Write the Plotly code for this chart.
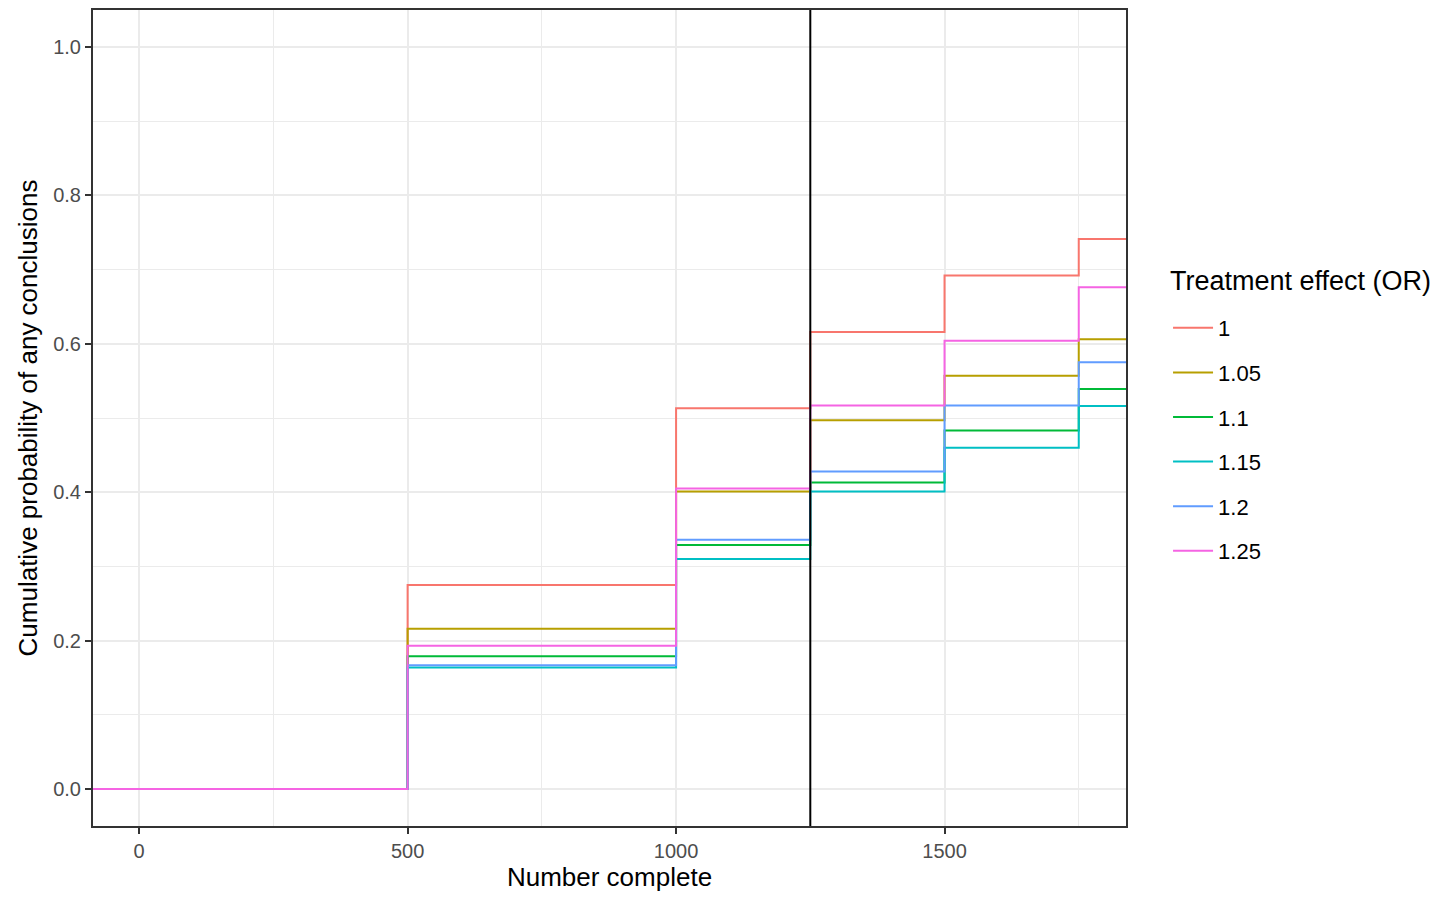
import plotly.graph_objects as go

# Interim analysis looks (number complete); ends extended so the steps span the panel
looks = [-250, 500, 1000, 1250, 1500, 1750, 2000]
effects = ["1", "1.05", "1.1", "1.15", "1.2", "1.25"]
p_or_100 = [0.0, 0.275, 0.513, 0.616, 0.692, 0.741, 0.741]
p_or_105 = [0.0, 0.216, 0.401, 0.497, 0.557, 0.606, 0.606]
p_or_110 = [0.0, 0.179, 0.329, 0.413, 0.483, 0.539, 0.539]
p_or_115 = [0.0, 0.164, 0.310, 0.401, 0.460, 0.516, 0.516]
p_or_120 = [0.0, 0.167, 0.336, 0.428, 0.517, 0.575, 0.575]
p_or_125 = [0.0, 0.193, 0.405, 0.517, 0.604, 0.676, 0.676]
series = [p_or_100, p_or_105, p_or_110, p_or_115, p_or_120, p_or_125]
colors = ["#F8766D", "#B79F00", "#00BA38", "#00BFC4", "#619CFF", "#F564E3"]
interim_line = 1250

x_ticks = [0, 500, 1000, 1500]
y_ticks = [0.0, 0.2, 0.4, 0.6, 0.8, 1.0]
y_tick_labels = ["0.0", "0.2", "0.4", "0.6", "0.8", "1.0"]

FONT = "Liberation Sans, Arial, Helvetica, sans-serif"

fig = go.Figure()
for name, vals, col in zip(effects, series, colors):
    fig.add_trace(go.Scatter(
        x=looks, y=vals, mode="lines", name=name,
        line=dict(color=col, width=2, shape="hv"),
        legendgroup=name,
    ))

fig.add_shape(type="line", xref="x", yref="paper", x0=interim_line, x1=interim_line,
              y0=0, y1=1, line=dict(color="black", width=2), layer="above")

fig.add_annotation(text="Treatment effect (OR)", xref="paper", yref="paper",
                   x=1.0407, y=0.6675, xanchor="left", yanchor="middle",
                   showarrow=False, font=dict(size=27, color="black"))

grid = "#EBEBEB"
fig.update_layout(
    width=1438, height=898,
    margin=dict(l=93, r=312, t=8, b=72),
    paper_bgcolor="white", plot_bgcolor="white",
    font=dict(family=FONT, color="black"),
    showlegend=True,
    legend=dict(
        font=dict(size=22, color="black"),
        x=1.0407, xanchor="left", y=0.636, yanchor="top",
        tracegroupgap=13, itemwidth=40,
        bgcolor="rgba(0,0,0,0)",
    ),
    xaxis=dict(
        range=[-86, 1838], tickvals=x_ticks, ticktext=[str(t) for t in x_ticks],
        showgrid=True, gridcolor=grid, gridwidth=2,
        minor=dict(dtick=250, tick0=0, showgrid=True, gridcolor=grid, gridwidth=1),
        zeroline=False,
        ticks="outside", ticklen=6, tickwidth=2, tickcolor="#333333",
        tickfont=dict(size=20, color="#4D4D4D"),
        title=dict(text="Number complete", font=dict(size=26, color="black"), standoff=4),
        showline=True, linecolor="#333333", linewidth=2, mirror=True,
    ),
    yaxis=dict(
        range=[-0.0497, 1.0497], tickvals=y_ticks, ticktext=y_tick_labels,
        showgrid=True, gridcolor=grid, gridwidth=2,
        minor=dict(dtick=0.1, tick0=0, showgrid=True, gridcolor=grid, gridwidth=1),
        zeroline=False,
        ticks="outside", ticklen=6, tickwidth=2, tickcolor="#333333",
        tickfont=dict(size=20, color="#4D4D4D"),
        title=dict(text="Cumulative probability of any conclusions",
                   font=dict(size=26, color="black"), standoff=8),
        showline=True, linecolor="#333333", linewidth=2, mirror=True,
    ),
)

fig.write_html("out.html", config={"displayModeBar": False},
               post_script="document.body.style.margin='0px';")
